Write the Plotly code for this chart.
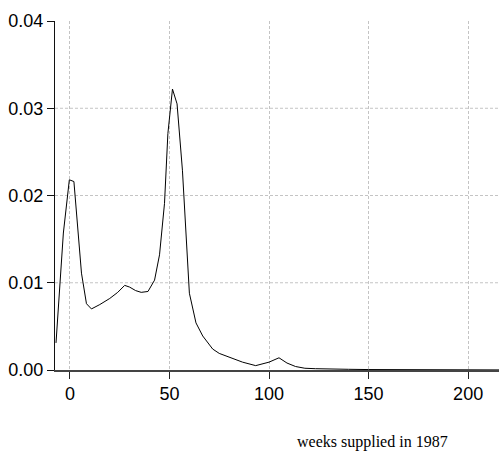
import plotly.graph_objects as go

# Kernel density estimate of weeks supplied in 1987
weeks = [-7, -3.3, -0.3, 2, 5.8, 8.3, 10.8, 15, 20, 24, 27.5, 30, 33, 35.8,
         39.2, 42.5, 45, 47.5, 49.2, 51.5, 53.8, 56.5, 60, 63.3, 66.7, 71.7,
         75, 80, 86.7, 93.3, 100, 105, 109, 113.3, 118, 123.3, 130, 140, 150,
         165, 180, 200, 216]
density = [0.0031, 0.0157, 0.0218, 0.0216, 0.0111, 0.0076, 0.0070, 0.0075,
           0.0082, 0.0089, 0.0097, 0.0095, 0.0091, 0.0089, 0.0090, 0.0103,
           0.0132, 0.0191, 0.0271, 0.0322, 0.0305, 0.0229, 0.0088, 0.0054,
           0.0039, 0.0024, 0.0019, 0.0015, 0.0009, 0.0005, 0.0009, 0.0014,
           0.0008, 0.0004, 0.0002, 0.00015, 0.0001, 0.00008, 0.00005, 0.00003,
           0.00002, 0.00001, 0.00001]

x_ticks = [0, 50, 100, 150, 200]
y_ticks = [0.00, 0.01, 0.02, 0.03, 0.04]
x_title = "weeks supplied in 1987"

GRID_COLOR = "#c4c4c4"
GRID_DASH = "3px,2px"

fig = go.Figure(go.Scatter(x=weeks, y=density, mode="lines",
                           line=dict(color="black", width=1),
                           showlegend=False, hoverinfo="skip"))

tick_font = dict(family="Liberation Sans, Arial", size=18, color="black")

fig.update_xaxes(range=[-7.5, 215.5], tickvals=x_ticks,
                 ticktext=[str(v) for v in x_ticks],
                 ticks="outside", ticklen=7, tickcolor="#222", tickwidth=1,
                 showline=True, linecolor="#444", linewidth=1.5,
                 showgrid=True, gridcolor=GRID_COLOR, gridwidth=1,
                 griddash=GRID_DASH,
                 zeroline=False, tickfont=tick_font)
fig.update_yaxes(range=[0, 0.04], tickvals=y_ticks,
                 ticktext=[f"{v:.2f}" for v in y_ticks],
                 ticks="outside", ticklen=7, tickcolor="#111", tickwidth=1,
                 showline=True, linecolor="#111", linewidth=1.2,
                 showgrid=False, zeroline=False, tickfont=tick_font)

# horizontal grid lines only at the interior ticks (none along the top edge)
for v in y_ticks[1:-1]:
    fig.add_shape(type="line", xref="paper", yref="y", x0=0, x1=1, y0=v, y1=v,
                  layer="below",
                  line=dict(color=GRID_COLOR, width=1, dash=GRID_DASH))

fig.add_annotation(text=x_title, xref="paper", yref="paper",
                   x=0.716, y=-0.207, xanchor="center", yanchor="middle",
                   showarrow=False,
                   font=dict(family="Liberation Serif, Times New Roman",
                             size=16, color="black"))

fig.update_layout(width=499, height=455,
                  margin=dict(l=55, r=0, t=21, b=85),
                  plot_bgcolor="white", paper_bgcolor="white")

fig.write_html("out.html")
